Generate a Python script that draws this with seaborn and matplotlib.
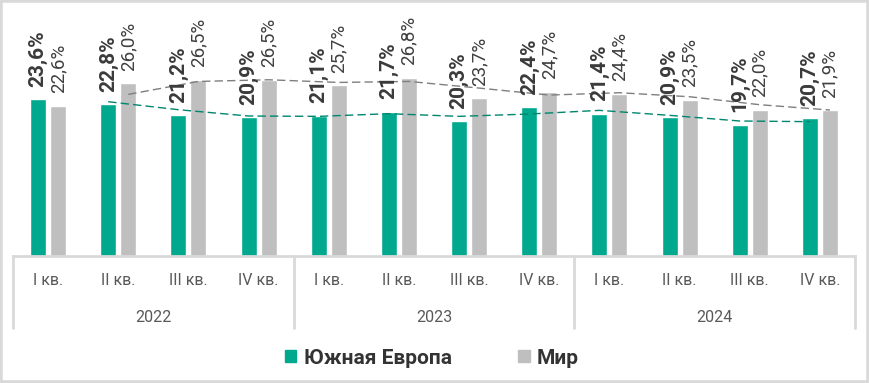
import numpy as np
import pandas as pd
import seaborn as sns
import matplotlib.pyplot as plt
from matplotlib.patches import Rectangle

# data
years = ['2022', '2023', '2024']
quarters = ['I кв.', 'II кв.', 'III кв.', 'IV кв.']
south_europe = [23.6, 22.8, 21.2, 20.9, 21.1, 21.7, 20.3, 22.4, 21.4, 20.9, 19.7, 20.7]
world = [22.6, 26.0, 26.5, 26.5, 25.7, 26.8, 23.7, 24.7, 24.4, 23.5, 22.0, 21.9]
series_names = ['Южная Европа', 'Мир']

green = '#00A88E'
grey = '#BFBFBF'
line_col = '#D9D9D9'

periods = [f'{y} {q}' for y in years for q in quarters]
df = pd.DataFrame({
    'period': periods * 2,
    'value': south_europe + world,
    'series': [series_names[0]] * len(periods) + [series_names[1]] * len(periods),
})

sns.set_style('white')
plt.rcParams['font.family'] = ['Roboto', 'DejaVu Sans']

W, H = 869, 383
fig = plt.figure(figsize=(W / 100, H / 100), dpi=100, facecolor='white')
fig.add_artist(Rectangle((0, 0), 1, 1, transform=fig.transFigure, fill=False,
                         edgecolor=line_col, linewidth=4))

ax_left, ax_right, ax_bottom, ax_top = 13, 855, 256, 10
ax = fig.add_axes([ax_left / W, 1 - ax_bottom / H, (ax_right - ax_left) / W, (ax_bottom - ax_top) / H])

sns.barplot(data=df, x='period', y='value', hue='series', order=periods,
            hue_order=series_names, palette=[green, grey], width=0.57, gap=0.2,
            ax=ax, legend=False, saturation=1)

ax.set_xlim(-0.5, len(periods) - 0.5)
ax.set_ylim(0, (ax_bottom - ax_top) / 6.65)

# value labels
for cont, fw, fs, col in zip(ax.containers, ['bold', 'normal'], [15, 13.5], ['#3a3a3a', '#404040']):
    ax.bar_label(cont, labels=[f'{v:.1f}%'.replace('.', ',') for v in cont.datavalues],
                 rotation=90, padding=9, fontsize=fs, fontweight=fw, color=col)

# 2-period moving average trend lines
offset = 0.143
xs = np.arange(len(periods))
ma_green = pd.Series(south_europe).rolling(2).mean()
ma_grey = pd.Series(world).rolling(2).mean()
ax.plot(xs - offset, ma_green, linestyle=(0, (6, 3)), color='#00866f', linewidth=1, zorder=1)
ax.plot(xs + offset, ma_grey, linestyle=(0, (6, 3)), color='#7f7f7f', linewidth=1, zorder=1)

# axes styling
for s in ['top', 'right', 'left']:
    ax.spines[s].set_visible(False)
ax.spines['bottom'].set_color(line_col)
ax.spines['bottom'].set_linewidth(2)
ax.set_yticks([])
ax.set_xlabel('')
ax.set_ylabel('')
ax.set_xticks(xs)
ax.set_xticklabels(quarters * len(years), fontsize=11.5, color='#595959')
ax.tick_params(axis='x', length=0, pad=12)

# category table lines and year labels
axh = ax_bottom - ax_top
depth = -72 / axh
trans = ax.get_xaxis_transform()
for b in [-0.5, 3.5, 7.5, 11.5]:
    ax.plot([b, b], [0, depth], transform=trans, color=line_col, linewidth=2, clip_on=False)
for i, y in enumerate(years):
    ax.text(i * 4 + 1.5, -61 / axh, y, transform=trans, ha='center', va='center',
            fontsize=11.5, color='#595959')

# legend
handles = [Rectangle((0, 0), 1, 1, color=green), Rectangle((0, 0), 1, 1, color=grey)]
leg = fig.legend(handles, series_names, loc='center', bbox_to_anchor=(432 / W, 1 - 358 / H),
                 ncol=2, frameon=False, handlelength=0.55, handleheight=0.55,
                 handletextpad=0.35, columnspacing=3.2, prop={'weight': 'bold', 'size': 15})
for t in leg.get_texts():
    t.set_color('#333333')

fig.savefig('out.png', dpi=100, facecolor='white')
